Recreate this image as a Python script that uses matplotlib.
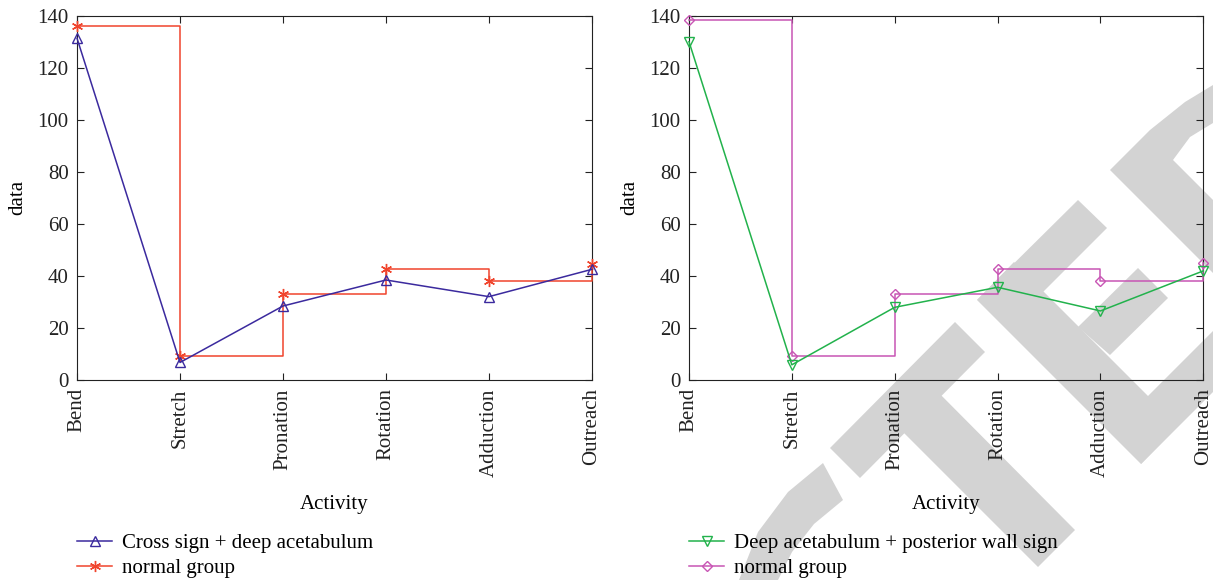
import numpy as np
import matplotlib
matplotlib.use("Agg")
import matplotlib.pyplot as plt
from matplotlib.patches import Polygon

# Data
activities = ["Bend", "Stretch", "Pronation", "Rotation", "Adduction", "Outreach"]

cross_deep = [131.3, 6.7, 28.4, 38.4, 32.0, 42.5]
normal_left = [136.2, 9.0, 33.0, 42.7, 38.0, 44.4]

deep_posterior = [130.0, 5.8, 27.9, 35.6, 26.5, 41.9]
normal_right = [138.3, 9.2, 33.0, 42.7, 38.0, 45.1]

y_ticks = [0, 20, 40, 60, 80, 100, 120, 140]

W, H = 1213, 580
FS = 15

plt.rcParams['font.family'] = ['Liberation Serif', 'DejaVu Serif']
plt.rcParams['font.size'] = FS

fig = plt.figure(figsize=(W / 100, H / 100), dpi=100)

# grey "retracted" stamp behind the right panel (pixel outlines, top-left origin)
stamp = [
    [(830, 448), (955, 322), (985, 352), (860, 478)],                 # T bar
    [(928, 382), (1075, 530), (1038, 567), (890, 419)],               # T stem
    [(977, 300), (1014, 262), (1178, 426), (1141, 464)],              # E spine
    [(977, 300), (1078, 200), (1107, 228), (1043, 292)],              # E top arm
    [(1078, 327), (1138, 268), (1168, 298), (1110, 355)],             # E middle arm
    [(1147, 397), (1250, 294), (1290, 315), (1141, 464)],             # E bottom arm
    [(1110, 170), (1150, 130), (1185, 102), (1213, 85), (1213, 123),
     (1190, 137), (1173, 160), (1213, 200), (1213, 273)],             # D corner
    [(739, 580), (758, 532), (788, 492), (823, 463), (843, 500),
     (814, 524), (792, 552), (778, 580)],                             # C arc
]
for pts in stamp:
    xy = [(px / W, 1 - py / H) for px, py in pts]
    fig.patches.append(Polygon(xy, closed=True, transform=fig.transFigure,
                               facecolor='#d3d3d3', edgecolor='none', zorder=-5))

ax1 = fig.add_axes([0.0635, 0.345, 0.4245, 0.628])
ax2 = fig.add_axes([0.568, 0.345, 0.424, 0.628])

panels = [
    (ax1, cross_deep, "Cross sign + deep acetabulum", "#3b2a9e", "^",
     normal_left, "#f0442c", (6, 2, 0)),
    (ax2, deep_posterior, "Deep acetabulum + posterior wall sign", "#22b24c", "v",
     normal_right, "#c855b4", "D"),
]

x = np.arange(len(activities))
for ax, s1, lab1, c1, m1, s2, c2, m2 in panels:
    ax.set_facecolor('none')
    h1, = ax.plot(x, s1, color=c1, lw=1.1, marker=m1, markersize=6.5,
                  markerfacecolor='none', markeredgecolor=c1, label=lab1,
                  clip_on=False, zorder=4)
    ms2 = 5 if m2 == "D" else 8
    h2, = ax.plot(x, s2, color=c2, lw=1.1, drawstyle='steps-post', marker=m2,
                  markersize=ms2, markerfacecolor='none', markeredgecolor=c2,
                  label="normal group", clip_on=False, zorder=3)
    ax.set_xlim(0, len(activities) - 1)
    ax.set_ylim(0, 140)
    ax.set_yticks(y_ticks)
    ax.set_xticks(x)
    ax.set_xticklabels(activities, rotation=90)
    ax.tick_params(direction='in', top=True, right=True, length=5,
                   labelsize=FS, colors='#222222', pad=6)
    for sp in ax.spines.values():
        sp.set_color('#222222')
    ax.set_ylabel("data", fontsize=FS, labelpad=7)
    ax.set_xlabel("Activity", fontsize=FS, labelpad=13)
    pos = ax.get_position()
    ax.legend(handles=[h1, h2], loc='upper left', bbox_to_anchor=(pos.x0, 0.08),
              bbox_transform=fig.transFigure, frameon=False, fontsize=FS,
              handlelength=1.7, handletextpad=0.45, borderpad=0,
              borderaxespad=0, labelspacing=0.25)

fig.savefig("out.png", dpi=100)
